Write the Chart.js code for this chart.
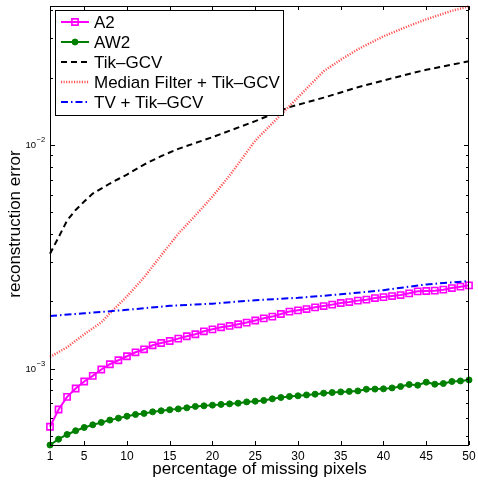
<!DOCTYPE html>
<html>
<head>
<meta charset="utf-8">
<script src="https://cdn.jsdelivr.net/npm/chart.js@4/dist/chart.umd.min.js"></script>
<style>
  html, body { margin: 0; padding: 0; background: #ffffff; }
  canvas { display: block; }
</style>
</head>
<body>
<canvas id="chart" width="478" height="483"></canvas>
<script>
// Percentage of missing pixels (x values)
const pct = [1,2,3,4,5,6,7,8,9,10,11,12,13,14,15,16,17,18,19,20,
             21,22,23,24,25,26,27,28,29,30,31,32,33,34,35,36,37,38,39,40,
             41,42,43,44,45,46,47,48,49,50];

// Reconstruction error per method
const errA2 = [5.49e-4,6.56e-4,7.47e-4,8.14e-4,8.75e-4,9.27e-4,9.90e-4,1.045e-3,1.089e-3,1.135e-3,
               1.182e-3,1.219e-3,1.270e-3,1.301e-3,1.328e-3,1.361e-3,1.394e-3,1.423e-3,1.467e-3,1.497e-3,
               1.529e-3,1.550e-3,1.577e-3,1.605e-3,1.640e-3,1.677e-3,1.707e-3,1.753e-3,1.797e-3,1.821e-3,
               1.845e-3,1.878e-3,1.903e-3,1.931e-3,1.963e-3,1.983e-3,2.012e-3,2.032e-3,2.066e-3,2.087e-3,
               2.109e-3,2.131e-3,2.169e-3,2.214e-3,2.221e-3,2.230e-3,2.253e-3,2.290e-3,2.323e-3,2.355e-3];

const errAW2 = [4.55e-4,4.83e-4,5.07e-4,5.27e-4,5.45e-4,5.60e-4,5.74e-4,5.88e-4,6.00e-4,6.12e-4,
                6.23e-4,6.30e-4,6.40e-4,6.47e-4,6.54e-4,6.60e-4,6.67e-4,6.77e-4,6.81e-4,6.86e-4,
                6.91e-4,6.95e-4,7.00e-4,7.09e-4,7.14e-4,7.20e-4,7.32e-4,7.42e-4,7.50e-4,7.55e-4,
                7.62e-4,7.68e-4,7.76e-4,7.81e-4,7.86e-4,7.90e-4,7.94e-4,8.08e-4,8.09e-4,8.11e-4,
                8.19e-4,8.31e-4,8.48e-4,8.42e-4,8.69e-4,8.51e-4,8.57e-4,8.75e-4,8.80e-4,8.89e-4];

const tikX = [1,2,3,4,5,6,7,8,9,10,12,14,16,20,25,29,33,37,41,45,50];
const errTik = [3.26e-3,3.86e-3,4.59e-3,5.12e-3,5.58e-3,6.06e-3,6.38e-3,6.72e-3,7.04e-3,7.37e-3,
                8.17e-3,8.91e-3,9.60e-3,1.083e-2,1.277e-2,1.475e-2,1.627e-2,1.811e-2,1.987e-2,
                2.169e-2,2.366e-2];

const medX = [1,3,5,7,8,10,12,14,16,18,20,22,25,28,31,33,35,37,40,43,45,48,50];
const errMed = [1.127e-3,1.245e-3,1.423e-3,1.609e-3,1.766e-3,2.102e-3,2.556e-3,3.205e-3,4.006e-3,
                4.835e-3,5.876e-3,7.293e-3,1.045e-2,1.365e-2,1.784e-2,2.135e-2,2.403e-2,2.677e-2,
                3.060e-2,3.409e-2,3.644e-2,3.978e-2,4.165e-2];

const tvX = [1,5,10,15,20,25,30,35,40,45,50];
const errTV = [1.717e-3,1.766e-3,1.830e-3,1.907e-3,1.950e-3,2.022e-3,2.071e-3,2.146e-3,2.241e-3,2.378e-3,2.461e-3];

// Axis ticks
const xTicks = [1,5,10,15,20,25,30,35,40,45,50];
const yDecades = [-3, -2];
const yRange = [4.55e-4, 4.18e-2];

const FONT = '"Liberation Sans", Arial, Helvetica, sans-serif';

function pts(xs, ys) { return xs.map((x, i) => ({ x: x, y: ys[i] })); }

const datasets = [
  { label: 'A2', data: pts(pct, errA2), borderColor: '#ff00ff', borderWidth: 2,
    pointStyle: 'rect', pointRadius: 4.4, pointBorderWidth: 1.6,
    pointBorderColor: '#ff00ff', pointBackgroundColor: 'rgba(255,255,255,0)', order: 5 },
  { label: 'AW2', data: pts(pct, errAW2), borderColor: '#008000', borderWidth: 2,
    pointStyle: 'circle', pointRadius: 3, pointBorderWidth: 1,
    pointBorderColor: '#008000', pointBackgroundColor: '#008000', order: 4 },
  { label: 'Tik\u2013GCV', data: pts(tikX, errTik), borderColor: '#000000', borderWidth: 2,
    borderDash: [6, 4], pointRadius: 0, order: 3 },
  { label: 'Median Filter + Tik\u2013GCV', data: pts(medX, errMed), borderColor: 'rgba(255,30,30,0.8)',
    borderWidth: 2.4, borderDash: [1.1, 1.5], pointRadius: 0, order: 2 },
  { label: 'TV + Tik\u2013GCV', data: pts(tvX, errTV), borderColor: '#0000ff', borderWidth: 2,
    borderDash: [7, 3, 1.5, 3], pointRadius: 0, order: 1 }
];
datasets.forEach(d => { d.fill = false; d.tension = 0; d.clip = false; });

function drawMarker(ctx, ds, x, y) {
  if (!ds.pointRadius) return;
  ctx.save();
  ctx.setLineDash([]);
  ctx.lineWidth = ds.pointBorderWidth;
  ctx.strokeStyle = ds.pointBorderColor;
  ctx.fillStyle = ds.pointBackgroundColor;
  ctx.beginPath();
  if (ds.pointStyle === 'rect') {
    const s = ds.pointRadius * Math.SQRT1_2;
    ctx.rect(x - s, y - s, 2 * s, 2 * s);
  } else {
    ctx.arc(x, y, ds.pointRadius, 0, Math.PI * 2);
  }
  ctx.fill();
  ctx.stroke();
  ctx.restore();
}

// Box axes with inward ticks, tick labels, titles and the inset legend
const frame = {
  id: 'frame',
  afterDraw(chart) {
    const ctx = chart.ctx;
    const a = chart.chartArea;
    const xs = chart.scales.x, ys = chart.scales.y;
    ctx.save();
    ctx.strokeStyle = '#000';
    ctx.lineWidth = 1;
    ctx.setLineDash([]);
    ctx.strokeRect(a.left + 0.5, a.top + 0.5, a.right - a.left - 1, a.bottom - a.top);

    // x ticks
    ctx.beginPath();
    xTicks.forEach(v => {
      const px = Math.round(xs.getPixelForValue(v)) + 0.5;
      ctx.moveTo(px, a.bottom); ctx.lineTo(px, a.bottom - 4);
      ctx.moveTo(px, a.top); ctx.lineTo(px, a.top + 4);
    });
    // y ticks (decades and minors)
    for (let e = -4; e <= -1; e++) {
      for (let k = 1; k <= 9; k++) {
        const v = k * Math.pow(10, e);
        if (v < yRange[0] || v > yRange[1]) continue;
        const len = k === 1 ? 5 : 3;
        const py = Math.round(ys.getPixelForValue(v)) + 0.5;
        ctx.moveTo(a.left, py); ctx.lineTo(a.left + len, py);
        ctx.moveTo(a.right, py); ctx.lineTo(a.right - len, py);
      }
    }
    ctx.stroke();

    // x tick labels
    ctx.fillStyle = '#000';
    ctx.font = '12px ' + FONT;
    ctx.textAlign = 'center';
    ctx.textBaseline = 'alphabetic';
    xTicks.forEach(v => ctx.fillText(String(v), xs.getPixelForValue(v), 460));

    // y tick labels: 10 with superscript exponent
    yDecades.forEach(e => {
      const py = ys.getPixelForValue(Math.pow(10, e));
      ctx.font = '9.5px ' + FONT;
      ctx.textAlign = 'right';
      ctx.fillText('10', 36, py + 3);
      ctx.font = '7.5px ' + FONT;
      ctx.textAlign = 'left';
      ctx.fillText('\u2212' + Math.abs(e), 36.5, py - 3);
    });

    // axis titles
    ctx.font = '17px ' + FONT;
    ctx.textAlign = 'center';
    ctx.fillText('percentage of missing pixels', (a.left + a.right) / 2, 474);
    ctx.save();
    ctx.translate(20, 224);
    ctx.rotate(-Math.PI / 2);
    ctx.fillText('reconstruction error', 0, 0);
    ctx.restore();

    // legend
    const lx = 55.5, ly = 10.5, lw = 228, lh = 105;
    ctx.fillStyle = '#fff';
    ctx.fillRect(lx, ly, lw, lh);
    ctx.strokeStyle = '#000';
    ctx.lineWidth = 1;
    ctx.strokeRect(lx, ly, lw, lh);
    chart.data.datasets.forEach((ds, i) => {
      const y = 22 + i * 20;
      ctx.save();
      ctx.strokeStyle = ds.borderColor;
      ctx.lineWidth = ds.borderWidth;
      ctx.setLineDash(ds.borderDash || []);
      ctx.beginPath();
      ctx.moveTo(61, y); ctx.lineTo(89, y);
      ctx.stroke();
      ctx.restore();
      drawMarker(ctx, ds, 75, y);
      ctx.fillStyle = '#000';
      ctx.font = '17px ' + FONT;
      ctx.textAlign = 'left';
      ctx.textBaseline = 'middle';
      ctx.fillText(ds.label, 94, y + 1);
    });
    ctx.restore();
  }
};

new Chart(document.getElementById('chart'), {
  type: 'line',
  data: { datasets: datasets },
  options: {
    responsive: false,
    animation: false,
    events: [],
    layout: { padding: { left: 50, right: 9, top: 5, bottom: 38 } },
    plugins: { legend: { display: false }, tooltip: { enabled: false } },
    scales: {
      x: { type: 'linear', min: 1, max: 50, display: false },
      y: { type: 'logarithmic', min: yRange[0], max: yRange[1], display: false }
    }
  },
  plugins: [frame]
});
</script>
</body>
</html>
